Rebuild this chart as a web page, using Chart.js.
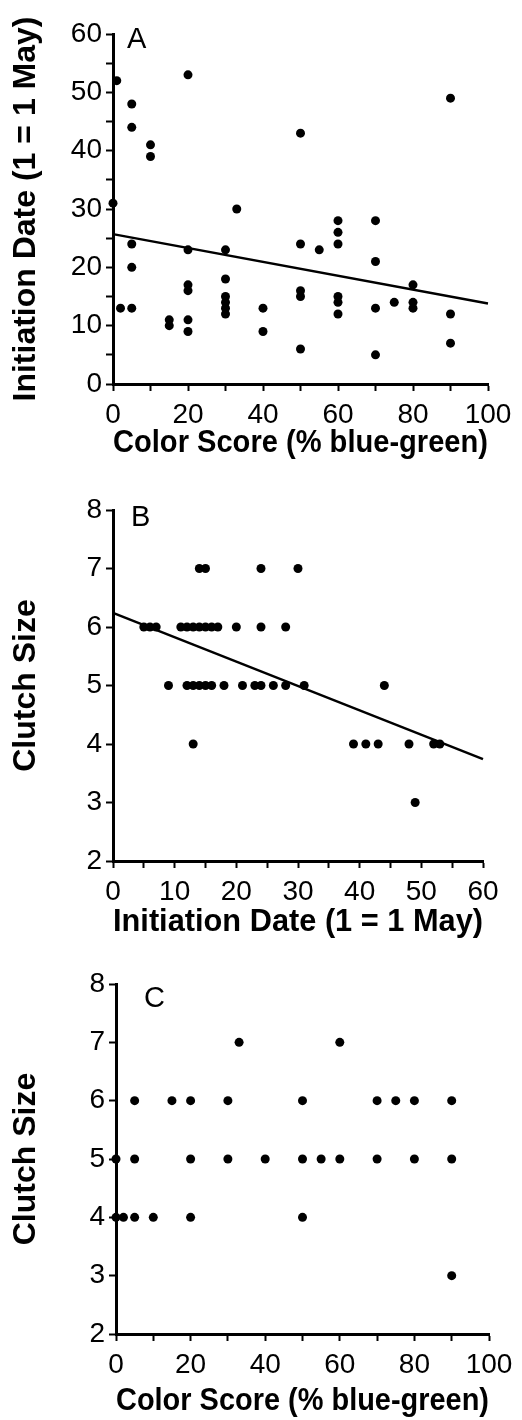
<!DOCTYPE html>
<html>
<head>
<meta charset="utf-8">
<script src="https://cdn.jsdelivr.net/npm/chart.js@4"></script>
<style>
  body { margin: 0; background: #fff; width: 522px; height: 1420px; position: relative; overflow: hidden; }
  canvas { position: absolute; left: 0; }
</style>
</head>
<body>
<canvas id="chartA" width="522" height="470" style="top:0px"></canvas>
<canvas id="chartB" width="522" height="480" style="top:470px"></canvas>
<canvas id="chartC" width="522" height="470" style="top:950px"></canvas>
<script>
// panel A: color score vs initiation date
const colorA = [0, 1, 2, 5, 5, 5, 5, 5, 10, 10, 15, 15, 20, 20, 20, 20, 20, 20, 30, 30, 30, 30, 30, 30, 33, 40, 40,
  50, 50, 50, 50, 50, 55, 60, 60, 60, 60, 60, 60, 70, 70, 70, 70, 75, 80, 80, 80, 90, 90, 90];
const dateA = [31, 52, 13, 48, 44, 24, 20, 13, 41, 39, 11, 10, 53, 23, 17, 16, 11, 9, 23, 18, 15, 14, 13, 12, 30, 13, 9,
  43, 24, 16, 15, 6, 23, 28, 26, 24, 15, 14, 12, 28, 21, 13, 5, 14, 17, 14, 13, 49, 12, 7];
const fitAx = [0, 100];
const fitAy = [25.7, 13.8];

// panel B: initiation date vs clutch size
const dateB = [14, 15, 24, 30,
  5, 6, 7, 11, 12, 13, 14, 15, 16, 17, 20, 24, 28,
  9, 12, 13, 14, 15, 16, 18, 21, 23, 24, 26, 28, 31, 44,
  13, 39, 41, 43, 48, 52, 53,
  49];
const clutchB = [7, 7, 7, 7,
  6, 6, 6, 6, 6, 6, 6, 6, 6, 6, 6, 6, 6,
  5, 5, 5, 5, 5, 5, 5, 5, 5, 5, 5, 5, 5, 5,
  4, 4, 4, 4, 4, 4, 4,
  3];
const fitBx = [0, 60];
const fitBy = [6.24, 3.74];

// panel C: color score vs clutch size
const colorC = [33, 60,
  5, 15, 20, 30, 50, 70, 75, 80, 90,
  0, 5, 20, 30, 40, 50, 55, 60, 70, 80, 90,
  0, 2, 5, 10, 20, 50,
  90];
const clutchC = [7, 7,
  6, 6, 6, 6, 6, 6, 6, 6, 6,
  5, 5, 5, 5, 5, 5, 5, 5, 5, 5, 5,
  4, 4, 4, 4, 4, 4,
  3];

// tick labels
const colorTicks = [0, 20, 40, 60, 80, 100];
const dateTicksA = [0, 10, 20, 30, 40, 50, 60];
const dateTicksB = [0, 10, 20, 30, 40, 50, 60];
const clutchTicks = [2, 3, 4, 5, 6, 7, 8];

const FONT = "'Liberation Sans', Arial, Helvetica, sans-serif";

function pairs(xs, ys) {
  return xs.map((x, i) => ({ x: x, y: ys[i] }));
}

const panelLetter = {
  id: 'panelLetter',
  afterDraw(chart, args, opts) {
    const ctx = chart.ctx;
    ctx.save();
    ctx.fillStyle = '#000';
    ctx.font = '29px ' + FONT;
    ctx.textBaseline = 'alphabetic';
    ctx.fillText(opts.text, chart.chartArea.left + opts.dx, chart.chartArea.top + opts.dy);
    ctx.restore();
  }
};

function axis(min, max, step, labels, title, titlePad, fixSize, isX) {
  return {
    type: 'linear',
    min: min,
    max: max,
    border: { display: true, color: '#000', width: 3 },
    grid: { drawOnChartArea: false, drawTicks: true, tickLength: 7, tickColor: '#000', tickWidth: 2 },
    ticks: {
      stepSize: step,
      autoSkip: false,
      maxRotation: 0,
      color: '#000',
      padding: isX ? 7 : 4,
      font: { family: FONT, size: 28 },
      callback: (v) => labels.includes(v) ? String(v) : ''
    },
    title: {
      display: true,
      text: title,
      color: '#000',
      font: { family: FONT, size: 32, weight: 'bold' },
      padding: titlePad
    },
    afterFit: (scale) => {
      if (isX) scale.height = fixSize; else scale.width = fixSize;
    }
  };
}

function makeChart(id, pts, fit, cfg) {
  const datasets = [{
    data: pts,
    backgroundColor: '#000',
    borderColor: '#000',
    pointRadius: 4.5,
    pointBorderWidth: 0,
    clip: false
  }];
  if (fit) {
    datasets.push({
      data: fit,
      showLine: true,
      borderColor: '#000',
      borderWidth: 2.4,
      pointRadius: 0,
      clip: false
    });
  }
  return new Chart(document.getElementById(id), {
    type: 'scatter',
    data: { datasets: datasets },
    options: {
      responsive: false,
      animation: false,
      layout: { padding: { left: 0, top: cfg.top, right: cfg.right, bottom: 0 } },
      plugins: { legend: { display: false }, tooltip: { enabled: false }, panelLetter: cfg.letter },
      scales: { x: cfg.x, y: cfg.y }
    },
    plugins: [panelLetter]
  });
}

makeChart('chartA', pairs(colorA, dateA), pairs(fitAx, fitAy), {
  top: 34, right: 34,
  letter: { text: 'A', dx: 14, dy: 14 },
  x: axis(0, 100, 10, colorTicks, 'Color Score (% blue-green)', { top: 0, bottom: 8 }, 86, true),
  y: axis(0, 60, 5, dateTicksA, 'Initiation Date (1 = 1 May)', { top: 7, bottom: 0 }, 113, false)
});

makeChart('chartB', pairs(dateB, clutchB), pairs(fitBx, fitBy), {
  top: 40, right: 39,
  letter: { text: 'B', dx: 18, dy: 16 },
  x: axis(0, 60, 5, dateTicksB, 'Initiation Date (1 = 1 May)', { top: 0, bottom: 9 }, 89, true),
  y: axis(2, 8, 1, clutchTicks, 'Clutch Size', { top: 7, bottom: 0 }, 113, false)
});

makeChart('chartC', pairs(colorC, clutchC), null, {
  top: 34, right: 33,
  letter: { text: 'C', dx: 28, dy: 23 },
  x: axis(0, 100, 10, colorTicks, 'Color Score (% blue-green)', { top: 0, bottom: 0 }, 86, true),
  y: axis(2, 8, 1, clutchTicks, 'Clutch Size', { top: 7, bottom: 0 }, 116, false)
});
</script>
</body>
</html>
